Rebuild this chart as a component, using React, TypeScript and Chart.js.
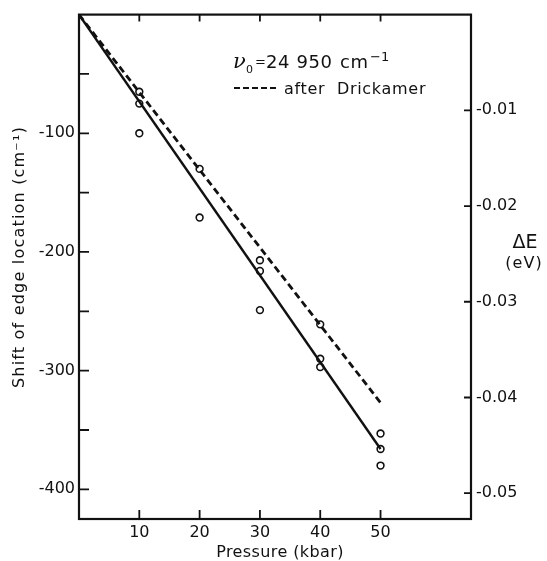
import React, { useEffect, useRef } from 'react';
import { Chart, registerables } from 'chart.js';

Chart.register(...registerables);

// ---- data ----
const CM_PER_EV = 8065.54;

const pressureKbar = [10, 10, 10, 20, 20, 30, 30, 30, 40, 40, 40, 50, 50, 50];
const shiftCm = [-65, -75, -100, -130, -171, -207, -216, -249, -261, -290, -297, -353, -366, -380];

const fitLineKbar = [0, 50];
const fitLineCm = [0, -366];

const drickamerKbar = [0, 50];
const drickamerCm = [0, -327];

const xTickValues = [10, 20, 30, 40, 50];
const leftTickValues = [-50, -100, -150, -200, -250, -300, -350, -400];
const leftLabelValues = [-100, -200, -300, -400];
const rightTickValuesEv = [-0.01, -0.02, -0.03, -0.04, -0.05];

const X_MIN = 0;
const X_MAX = 65;
const Y_MIN = -425;
const Y_MAX = 0;

const FONT = '"DejaVu Sans", "Liberation Sans", sans-serif';
const INK = '#111111';

const toPoints = (xs: number[], ys: number[]) => xs.map((x, i) => ({ x, y: ys[i] }));

const decorPlugin = {
  id: 'decor',
  afterDraw(chart: any) {
    const { ctx, chartArea: a, scales } = chart;
    ctx.save();
    ctx.strokeStyle = INK;
    ctx.fillStyle = INK;

    // frame
    ctx.lineWidth = 2.2;
    ctx.strokeRect(a.left, a.top, a.right - a.left, a.bottom - a.top);

    // inward ticks
    ctx.lineWidth = 1.8;
    ctx.beginPath();
    for (const v of xTickValues) {
      const px = scales.x.getPixelForValue(v);
      ctx.moveTo(px, a.bottom);
      ctx.lineTo(px, a.bottom - 9);
      ctx.moveTo(px, a.top);
      ctx.lineTo(px, a.top + 7);
    }
    for (const v of leftTickValues) {
      const py = scales.y.getPixelForValue(v);
      ctx.moveTo(a.left, py);
      ctx.lineTo(a.left + 10, py);
    }
    for (const v of rightTickValuesEv) {
      const py = scales.y2.getPixelForValue(v);
      ctx.moveTo(a.right, py);
      ctx.lineTo(a.right - 7, py);
    }
    ctx.stroke();

    // axis titles
    ctx.textAlign = 'center';
    ctx.textBaseline = 'middle';
    (ctx as any).letterSpacing = '1.2px';
    ctx.font = `16px ${FONT}`;
    ctx.save();
    ctx.translate(20, 257);
    ctx.rotate(-Math.PI / 2);
    ctx.fillText('Shift of edge location (cm\u207B\u00B9)', 0, 0);
    ctx.restore();

    (ctx as any).letterSpacing = '0.4px';
    ctx.fillText('Pressure (kbar)', 280, 553);

    (ctx as any).letterSpacing = '0px';
    ctx.font = `19px ${FONT}`;
    ctx.fillText('\u0394E', 525, 243);
    ctx.font = `16px ${FONT}`;
    (ctx as any).letterSpacing = '1px';
    ctx.fillText('(eV)', 524, 264);

    // annotation
    (ctx as any).letterSpacing = '0px';
    ctx.textAlign = 'left';
    ctx.textBaseline = 'alphabetic';
    ctx.font = `italic 21px "DejaVu Serif", serif`;
    ctx.fillText('\u03BD', 233, 68);
    ctx.font = `11px ${FONT}`;
    ctx.fillText('0', 246, 73);
    ctx.font = `13px ${FONT}`;
    ctx.fillText('=', 255, 66);
    (ctx as any).letterSpacing = '0.6px';
    ctx.font = `18px ${FONT}`;
    ctx.fillText('24 950', 266, 68);
    ctx.fillText('cm', 340, 68);
    (ctx as any).letterSpacing = '0px';
    ctx.font = `13px ${FONT}`;
    ctx.fillText('\u2212', 370, 61);
    ctx.fillText('1', 381, 61);

    ctx.lineWidth = 2;
    ctx.setLineDash([6, 3]);
    ctx.beginPath();
    ctx.moveTo(234, 88);
    ctx.lineTo(279, 88);
    ctx.stroke();
    ctx.setLineDash([]);

    (ctx as any).letterSpacing = '0.7px';
    ctx.font = `16px ${FONT}`;
    ctx.fillText('after  Drickamer', 284, 94);
    ctx.restore();
  },
};

export default function App() {
  const canvasRef = useRef<HTMLCanvasElement | null>(null);

  useEffect(() => {
    if (!canvasRef.current) return;
    const tickFont = { family: FONT, size: 16 };
    const chart = new Chart(canvasRef.current, {
      type: 'scatter',
      data: {
        datasets: [
          {
            label: 'measured',
            data: toPoints(pressureKbar, shiftCm),
            showLine: false,
            pointStyle: 'circle',
            pointRadius: 3.4,
            pointBorderWidth: 1.6,
            pointBorderColor: INK,
            pointBackgroundColor: 'rgba(0,0,0,0)',
            xAxisID: 'x',
            yAxisID: 'y',
          },
          {
            label: 'fit',
            data: toPoints(fitLineKbar, fitLineCm),
            showLine: true,
            borderColor: INK,
            borderWidth: 2.4,
            pointRadius: 0,
            xAxisID: 'x',
            yAxisID: 'y',
          },
          {
            label: 'after Drickamer',
            data: toPoints(drickamerKbar, drickamerCm),
            showLine: true,
            borderColor: INK,
            borderWidth: 2.8,
            borderDash: [7, 4],
            pointRadius: 0,
            xAxisID: 'x',
            yAxisID: 'y',
          },
        ],
      },
      options: {
        responsive: false,
        maintainAspectRatio: false,
        animation: false,
        layout: { padding: { top: 13, left: 0, right: 0, bottom: 0 } },
        plugins: {
          legend: { display: false },
          tooltip: { enabled: false },
          title: { display: false },
        },
        scales: {
          x: {
            type: 'linear',
            position: 'bottom',
            min: X_MIN,
            max: X_MAX,
            grid: { display: false, drawTicks: false },
            border: { display: false },
            afterBuildTicks: (s: any) => {
              s.ticks = xTickValues.map((v) => ({ value: v }));
            },
            afterFit: (s: any) => {
              s.height = 42;
            },
            ticks: {
              color: INK,
              font: tickFont,
              padding: 4,
              autoSkip: false,
              maxRotation: 0,
              callback: (v: any) => String(v),
            },
          },
          y: {
            type: 'linear',
            position: 'left',
            min: Y_MIN,
            max: Y_MAX,
            grid: { display: false, drawTicks: false },
            border: { display: false },
            afterBuildTicks: (s: any) => {
              s.ticks = leftTickValues.map((v) => ({ value: v }));
            },
            afterFit: (s: any) => {
              s.width = 79;
            },
            ticks: {
              color: INK,
              font: tickFont,
              padding: 4,
              autoSkip: false,
              callback: (v: any) => (leftLabelValues.includes(Number(v)) ? String(v) : ''),
            },
          },
          y2: {
            type: 'linear',
            position: 'right',
            display: true,
            min: Y_MIN / CM_PER_EV,
            max: Y_MAX / CM_PER_EV,
            grid: { display: false, drawTicks: false },
            border: { display: false },
            afterBuildTicks: (s: any) => {
              s.ticks = rightTickValuesEv.map((v) => ({ value: v }));
            },
            afterFit: (s: any) => {
              s.width = 76;
            },
            ticks: {
              color: INK,
              font: tickFont,
              padding: 5,
              autoSkip: false,
              callback: (v: any) => Number(v).toFixed(2),
            },
          },
        },
      },
      plugins: [decorPlugin],
    } as any);
    return () => chart.destroy();
  }, []);

  return (
    <div style={{ position: 'fixed', left: 0, top: 0, width: 547, height: 561, background: '#fff' }}>
      <canvas ref={canvasRef} width={547} height={561} style={{ display: 'block' }} />
    </div>
  );
}
